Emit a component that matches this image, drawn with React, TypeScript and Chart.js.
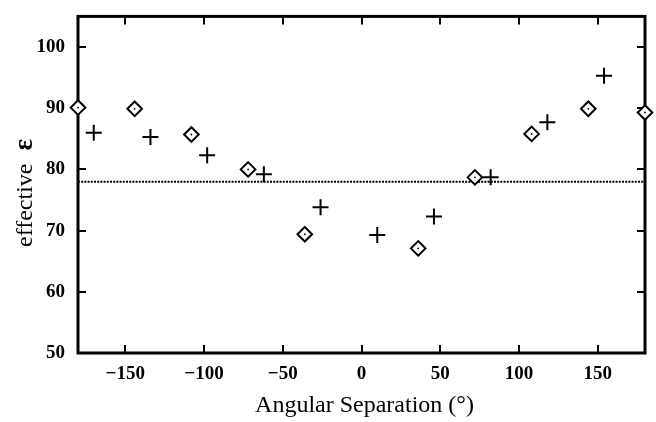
import React, { useEffect, useRef } from "react";
import { Chart, registerables } from "chart.js";

Chart.register(...registerables);

const diamondX = [-180, -144, -108, -72, -36, 36, 72, 108, 144, 180];
const diamondY = [90.1, 89.9, 85.7, 80.0, 69.4, 67.1, 78.7, 85.8, 89.9, 89.3];
const crossX = [-170, -134, -98, -62, -26, 10, 46, 82, 118, 154];
const crossY = [86.0, 85.3, 82.3, 79.2, 73.8, 69.3, 72.3, 78.7, 87.7, 95.3];
const refLineX = [-180, 180];
const refLineY = [78, 78];
const xTicks = [-150, -100, -50, 0, 50, 100, 150];
const yTicks = [50, 60, 70, 80, 90, 100];
const xTitle = "Angular Separation (°)";
const yTitleWord = "effective";
const yTitleSymbol = "ε";

const SERIF = "'Liberation Serif', 'DejaVu Serif', serif";

const framePlugin = {
  id: "frame",
  beforeDatasetsDraw(chart: any) {
    const { ctx, chartArea: a, scales } = chart;
    ctx.save();
    ctx.strokeStyle = "#000";
    ctx.lineWidth = 2;
    const seg = (x1: number, y1: number, x2: number, y2: number) => {
      ctx.beginPath();
      ctx.moveTo(x1, y1);
      ctx.lineTo(x2, y2);
      ctx.stroke();
    };
    for (const v of xTicks) {
      const px = Math.round(scales.x.getPixelForValue(v));
      seg(px, a.bottom, px, a.bottom - 8);
      seg(px, a.top, px, a.top + 8);
    }
    for (const v of yTicks) {
      const py = Math.round(scales.y.getPixelForValue(v));
      seg(a.left, py, a.left + 8, py);
      seg(a.right, py, a.right - 8, py);
    }
    ctx.lineWidth = 3;
    ctx.strokeRect(a.left, a.top, a.right - a.left, a.bottom - a.top);
    ctx.restore();
  },
  afterDraw(chart: any) {
    const { ctx, chartArea: a } = chart;
    ctx.save();
    ctx.fillStyle = "#000";
    // x title
    ctx.font = `24px ${SERIF}`;
    ctx.textAlign = "center";
    ctx.textBaseline = "alphabetic";
    ctx.fillText(xTitle, (a.left + a.right) / 2 + 3, 412);
    // y title
    ctx.translate(32, 247);
    ctx.rotate(-Math.PI / 2);
    ctx.textAlign = "left";
    ctx.font = `24px ${SERIF}`;
    ctx.fillText(yTitleWord, 0, 0);
    const w = ctx.measureText(yTitleWord).width;
    ctx.font = `bold 27px ${SERIF}`;
    ctx.fillText(yTitleSymbol, w + 13, 0);
    ctx.restore();
  },
};

const fmt = (v: any) => String(v).replace("-", "\u2212");

export default function App() {
  const ref = useRef<HTMLCanvasElement | null>(null);
  useEffect(() => {
    if (!ref.current) return;
    const diamonds = diamondX.map((x, i) => ({ x, y: diamondY[i] }));
    const crosses = crossX.map((x, i) => ({ x, y: crossY[i] }));
    const refLine = refLineX.map((x, i) => ({ x, y: refLineY[i] }));
    const chart = new Chart(ref.current, {
      type: "scatter",
      data: {
        datasets: [
          {
            label: "dots",
            data: diamonds,
            pointStyle: "circle",
            pointRadius: 0.9,
            borderWidth: 0,
            backgroundColor: "#000",
            borderColor: "#000",
            clip: false,
          } as any,
          {
            label: "diamonds",
            data: diamonds,
            pointStyle: "rectRot",
            pointRadius: 7.3,
            borderWidth: 2,
            backgroundColor: "#fff",
            borderColor: "#000",
            clip: false,
          } as any,
          {
            label: "crosses",
            data: crosses,
            pointStyle: "cross",
            pointRadius: 8,
            borderWidth: 2,
            borderColor: "#000",
            backgroundColor: "#000",
            clip: false,
          } as any,
          {
            type: "line",
            label: "ref",
            data: refLine,
            showLine: true,
            pointRadius: 0,
            borderColor: "#000",
            borderWidth: 2,
            borderDash: [2, 1.2],
          } as any,
        ],
      },
      options: {
        animation: false,
        responsive: true,
        maintainAspectRatio: false,
        layout: { padding: { top: 9, right: 11, left: 0, bottom: 0 } },
        plugins: { legend: { display: false }, tooltip: { enabled: false } },
        scales: {
          x: {
            type: "linear",
            min: -180,
            max: 180,
            grid: { display: false },
            border: { display: false },
            afterBuildTicks: (s: any) => {
              s.ticks = xTicks.map((value) => ({ value }));
            },
            afterFit: (s: any) => {
              s.height = 69;
            },
            ticks: {
              color: "#000",
              padding: 2,
              maxRotation: 0,
              font: { family: SERIF, size: 19, weight: "bold" },
              callback: fmt,
            },
          },
          y: {
            type: "linear",
            min: 50,
            max: 105,
            grid: { display: false },
            border: { display: false },
            afterBuildTicks: (s: any) => {
              s.ticks = yTicks.map((value) => ({ value }));
            },
            afterFit: (s: any) => {
              s.width = 78;
            },
            ticks: {
              color: "#000",
              padding: 5,
              font: { family: SERIF, size: 19, weight: "bold" },
              callback: fmt,
            },
          },
        },
      } as any,
      plugins: [framePlugin],
    });
    return () => chart.destroy();
  }, []);
  return (
    <div style={{ position: "fixed", left: 0, top: 0, width: 656, height: 422, background: "#fff" }}>
      <canvas ref={ref} />
    </div>
  );
}
